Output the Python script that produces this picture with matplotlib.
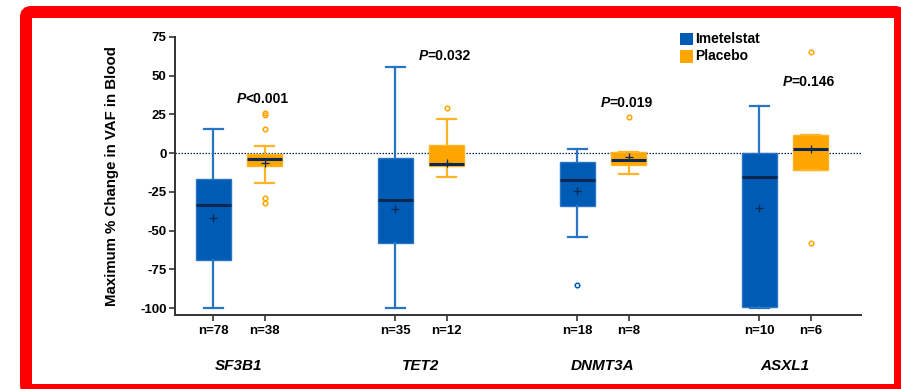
import matplotlib
matplotlib.use("Agg")
import matplotlib.pyplot as plt
from matplotlib.patches import FancyBboxPatch, Rectangle
from matplotlib.transforms import IdentityTransform
import numpy as np

plt.rcParams['font.family'] = ['Liberation Sans', 'DejaVu Sans']

genes = ["SF3B1", "TET2", "DNMT3A", "ASXL1"]
groups = ["Imetelstat", "Placebo"]
p_values = ["<0.001", "=0.032", "=0.019", "=0.146"]
p_heights = [35, 63, 32.5, 46]

imet_n = [78, 35, 18, 10]
imet_whishi = [15.7, 55.9, 2.8, 30.7]
imet_q3 = [-16.8, -3.2, -5.4, 0.0]
imet_med = [-33.4, -30.1, -17.4, -15.1]
imet_q1 = [-69.3, -57.7, -34.0, -99.4]
imet_whislo = [-100, -100, -54.2, -100]
imet_mean = [-42.0, -36.2, -24.5, -35.7]
imet_fliers = [[], [], [-85.2], []]

plac_n = [38, 12, 8, 6]
plac_whishi = [4.7, 21.9, 0.8, 11.8]
plac_q3 = [-0.5, 5.4, 0.8, 11.8]
plac_med = [-3.9, -6.9, -4.5, 2.6]
plac_q1 = [-8.2, -8.2, -7.8, -10.8]
plac_whislo = [-19.4, -15.5, -13.6, -10.8]
plac_mean = [-6.5, -6.5, -2.6, 2.6]
plac_fliers = [[26.2, 24.7, 15.9, -28.9, -32.5], [29.2], [23.2], [65.0, -57.7]]

yticks = [75, 50, 25, 0, -25, -50, -75, -100]

BLUE = "#005BB5"
BLUE_L = "#2A74C6"
ORANGE = "#FFA500"
ORANGE_L = "#FFB326"
NAVY = "#0B2850"

fig = plt.figure(figsize=(9.01, 3.89), dpi=100)
ax = fig.add_axes([0.1942, 0.1902, 0.9556 - 0.1942, 0.7147])

centers = np.arange(len(genes)).astype(float)
off = 0.141
bw = 0.19

def stats(whishi, q3, med, q1, whislo, mean, fliers):
    out = []
    for i in range(len(med)):
        out.append(dict(med=med[i], q1=q1[i], q3=q3[i], whislo=whislo[i],
                        whishi=whishi[i], mean=mean[i], fliers=fliers[i]))
    return out

for st, pos, fc, lc in [
    (stats(imet_whishi, imet_q3, imet_med, imet_q1, imet_whislo, imet_mean, imet_fliers), centers - off, BLUE, BLUE_L),
    (stats(plac_whishi, plac_q3, plac_med, plac_q1, plac_whislo, plac_mean, plac_fliers), centers + off, ORANGE, ORANGE_L),
]:
    ax.bxp(st, positions=pos, widths=bw, capwidths=bw * 0.55, patch_artist=True,
           showmeans=True, manage_ticks=False,
           boxprops=dict(facecolor=fc, edgecolor=lc, linewidth=1.0),
           whiskerprops=dict(color=lc, linewidth=1.6),
           capprops=dict(color=lc, linewidth=1.6),
           medianprops=dict(color=NAVY, linewidth=2.2),
           meanprops=dict(marker='+', markeredgecolor=NAVY, markersize=6, markeredgewidth=0.9),
           flierprops=dict(marker='o', markerfacecolor='none', markeredgecolor=fc,
                           markersize=3.3, markeredgewidth=1.1))

ax.axhline(0, color=NAVY, linestyle=(0, (1.2, 1.2)), linewidth=0.9, zorder=0.5)

ax.set_xlim(-0.352, 3.418)
ax.set_ylim(-104.5, 75)
ax.set_yticks(yticks)
ax.set_yticklabels([str(v) for v in yticks], fontsize=9.5, fontweight='bold')
xt = np.sort(np.concatenate([centers - off, centers + off]))
ax.set_xticks(xt)
lbls = []
for i in range(len(genes)):
    lbls += [f"n={imet_n[i]}", f"n={plac_n[i]}"]
ax.set_xticklabels(lbls, fontsize=9.5, fontweight='bold')
for s in ['top', 'right']:
    ax.spines[s].set_visible(False)
for s in ['left', 'bottom']:
    ax.spines[s].set_color('#333333')
    ax.spines[s].set_linewidth(1.4)
ax.spines['left'].set_bounds(-104.5, 75)
ax.tick_params(axis='both', direction='out', length=4, width=1.2, color='#333333', pad=2)
ax.tick_params(axis='x', pad=3)

ax.set_ylabel("Maximum % Change in VAF in Blood", fontsize=10.8, fontweight='bold', labelpad=15)

for i, g in enumerate(genes):
    ax.text(centers[i], -137.5, g, ha='center', va='center', fontsize=11,
            fontweight='bold', fontstyle='italic', clip_on=False)

for i in range(len(genes)):
    t = ax.text(centers[i] + off - 0.155, p_heights[i], "P", ha='left', va='center', fontsize=10,
                fontweight='bold', fontstyle='italic')
    ax.annotate(p_values[i], xy=(1, 0), xycoords=t, ha='left', va='bottom',
                fontsize=10, fontweight='bold')

# legend
for j, (lab, col) in enumerate(zip(groups, [BLUE, ORANGE])):
    fig.patches.append(Rectangle((680, 389 - 45 - j * 17.5), 13, 12.5, transform=IdentityTransform(),
                                 facecolor=col, edgecolor='none'))
    fig.text(695 / 901, 1 - (39 + j * 17.5) / 389, lab, fontsize=10, fontweight='bold',
             va='center', ha='left')

# red frame
frame = FancyBboxPatch((26, -1), 874, 378, boxstyle="round,pad=0,rounding_size=5",
                       transform=IdentityTransform(), facecolor='none', edgecolor='#FF0000',
                       linewidth=12 * 72 / 100, clip_on=False)
fig.patches.append(frame)

fig.savefig("out.png", dpi=100)
